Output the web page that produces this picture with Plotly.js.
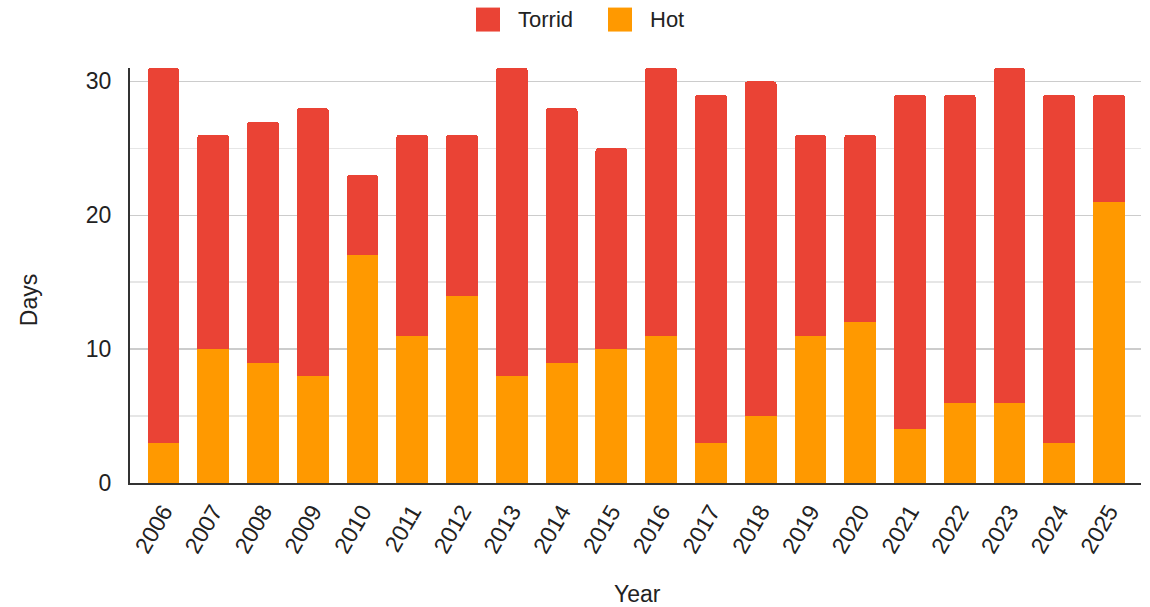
<!DOCTYPE html>
<html>
<head>
<meta charset="utf-8">
<script src="https://cdn.plot.ly/plotly-3.0.1.min.js"></script>
<style>html,body{margin:0;padding:0;background:#fff;}#chart{width:1150px;height:607px;}</style>
</head>
<body>
<div id="chart"></div>
<script>
const years = ["2006","2007","2008","2009","2010","2011","2012","2013","2014","2015","2016","2017","2018","2019","2020","2021","2022","2023","2024","2025"];
const hot = [3,10,9,8,17,11,14,8,9,10,11,3,5,11,12,4,6,6,3,21];
const torrid = [28,16,18,20,6,15,12,23,19,15,20,26,25,15,14,25,23,25,26,8];
const yTicks = [0,10,20,30];
const seriesNames = ["Torrid","Hot"];
const seriesColors = ["#EA4335","#FF9900"];

const font = "Arial, 'Liberation Sans', sans-serif";
const txt = "#222";

// plot area in pixels (for converting layout positions to paper coords)
const L = 130, R = 1141, T = 67.5, B = 483;
const px = v => (v - L) / (R - L);
const py = v => (B - v) / (B - T);

const data = [
  {type:"bar", name:seriesNames[1], x:years, y:hot, marker:{color:seriesColors[1]}, showlegend:false},
  {type:"bar", name:seriesNames[0], x:years, y:torrid, marker:{color:seriesColors[0]}, showlegend:false}
];

// custom legend (bigger swatches like the reference)
const legendItems = [
  {name:seriesNames[0], color:seriesColors[0], sx:476, tx:517},
  {name:seriesNames[1], color:seriesColors[1], sx:608, tx:649}
];
const shapes = legendItems.map(it => ({
  type:"rect", xref:"paper", yref:"paper",
  x0:px(it.sx), x1:px(it.sx+24), y0:py(31), y1:py(7),
  fillcolor:it.color, line:{width:0}
}));
const annotations = legendItems.map(it => ({
  xref:"paper", yref:"paper", x:px(it.tx), y:py(19), xanchor:"left", yanchor:"middle",
  text:it.name, showarrow:false, font:{family:font, size:22, color:txt}, borderpad:0
}));
annotations.push({
  xref:"paper", yref:"paper", x:px(29), y:py(300), xanchor:"center", yanchor:"middle",
  text:"Days", textangle:-90, showarrow:false, font:{family:font, size:23, color:txt}
});
annotations.push({
  xref:"paper", yref:"paper", x:px(637), y:py(594), xanchor:"center", yanchor:"middle",
  text:"Year", showarrow:false, font:{family:font, size:23, color:txt}
});

const layout = {
  width:1150, height:607,
  barmode:"stack",
  bargap:0.36,
  barcornerradius:3,
  margin:{l:L, r:1150-R, t:T, b:607-B, autoexpand:false},
  paper_bgcolor:"#fff", plot_bgcolor:"#fff",
  font:{family:font, size:23, color:txt},
  showlegend:false,
  shapes:shapes,
  annotations:annotations,
  xaxis:{
    type:"category",
    range:[-0.673, 19.643],
    tickangle:-60,
    tickfont:{size:23, color:txt},
    showgrid:false,
    showline:true, linecolor:"#333", linewidth:2,
    ticks:"", ticklabelstandoff:4,
    automargin:false
  },
  yaxis:{
    range:[0,31],
    tickvals:yTicks,
    tickfont:{size:23, color:txt},
    showgrid:true, gridcolor:"#cccccc", gridwidth:1.5,
    minor:{dtick:5, showgrid:true, gridcolor:"#e6e6e6", gridwidth:1.5},
    showline:true, linecolor:"#333", linewidth:2,
    zeroline:false,
    ticks:"", ticklabelstandoff:12,
    automargin:false
  }
};
Plotly.newPlot("chart", data, layout, {displayModeBar:false, staticPlot:true});
</script>
</body>
</html>
